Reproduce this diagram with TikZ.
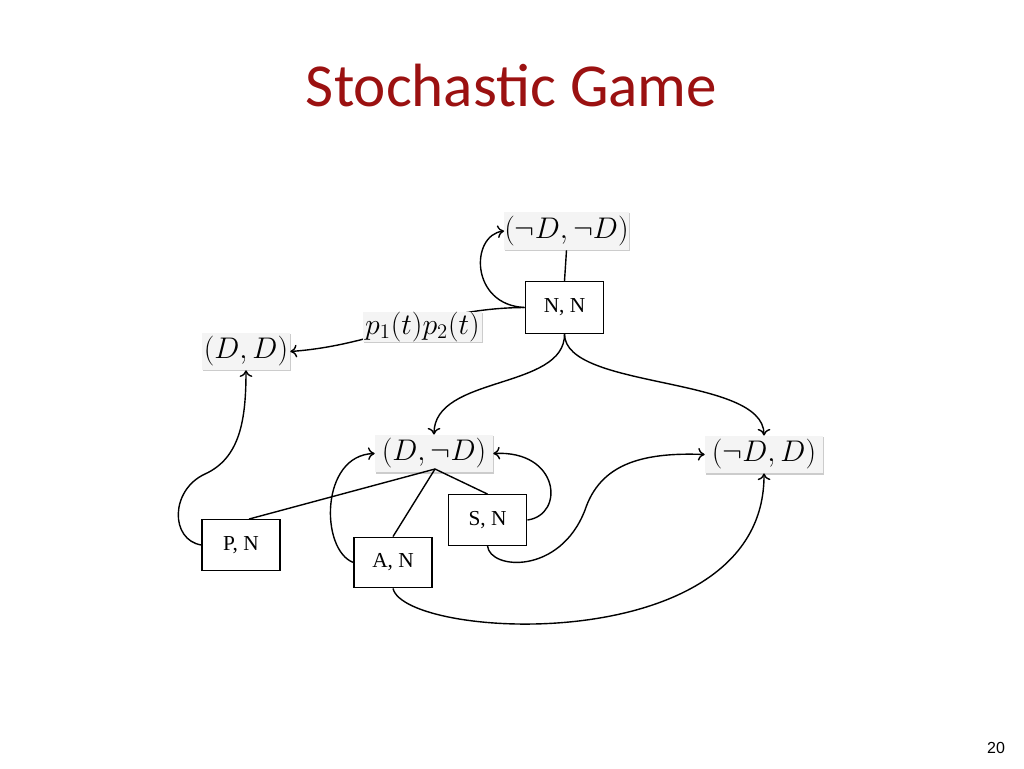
\documentclass[tikz,border=0pt]{standalone}
\usepackage{fontspec}
\newfontfamily\titlefont{Carlito}
\newfontfamily\boxfont{Liberation Serif}
\newfontfamily\numfont{Liberation Sans}
\usetikzlibrary{shadows,arrows.meta}
\definecolor{titlered}{RGB}{155,17,17}
\definecolor{statebg}{RGB}{244,244,244}
\newcommand{\stm}[1]{\scalebox{1.08}{$#1$}}
\begin{document}
\begin{tikzpicture}[x=0.75pt,y=-0.75pt,
  state/.style={fill=statebg, inner sep=0pt, font=\fontsize{20.74}{25}\selectfont,
    drop shadow={shadow xshift=0.7pt, shadow yshift=-1pt, fill=black, opacity=0.2}},
  act/.style={draw, fill=white, line width=0.9pt, inner sep=0pt, font=\boxfont\fontsize{16}{18}\selectfont,
    minimum width=58.5pt, minimum height=38pt},
  edge/.style={line width=1.05pt},
  arr/.style={edge, -{To[length=5pt,width=9.5pt]}}]
\fill[white] (0,0) rectangle (1024,768);
\useasboundingbox (0,0) rectangle (1024,768);

\node[font=\titlefont\fontsize{45.8}{50}\selectfont, text=titlered, anchor=base] (title) at (511.5,106) {Stochastic Game};
\node[font=\numfont\fontsize{12}{14}\selectfont, anchor=base] (pg) at (996,753) {20};

\node[state, minimum width=89pt, minimum height=28.5pt] (nn) at (566.5,231) {\stm{(\neg D,\neg D)}};
\node[state, minimum width=66pt, minimum height=27.75pt] (dd) at (246,351.5) {\stm{(D,D)}};
\node[state, minimum width=88.5pt, minimum height=28pt] (dn) at (434,453.5) {\stm{(D,\neg D)}};
\node[state, minimum width=88.5pt, minimum height=28pt] (nd) at (764,454.5) {\stm{(\neg D,D)}};

\coordinate (fk) at (435,469);
\node[act] (PN) at (241,545) {P, N};
\node[act] (AN) at (393,562.5) {A, N};
\node[act, minimum width=59pt] (SN) at (487.5,520) {S, N};
\node[act, minimum width=59pt, minimum height=39pt] (NN) at (564.5,307.5) {N, N};

\draw[edge] (fk) -- (PN.73);
\draw[edge] (fk) -- (AN.north);
\draw[edge] (fk) -- (SN.north);

\draw[edge] (NN.north) -- (nn.south);
\draw[arr] (NN.west) .. controls (470,305) and (470,235) .. (nn.west);
\draw[arr] (NN.west) .. controls (430,308) and (380,345) .. (dd.east);
\node[state, minimum width=89pt, minimum height=22.5pt] (pl) at (422.5,327) {\stm{p_1(t)p_2(t)}};

\draw[arr] (NN.south) .. controls (565,390) and (434,375) .. (dn.north);
\draw[arr] (NN.south) .. controls (565,390) and (764,375) .. (nd.north);

\draw[arr] (PN.west) .. controls (170,540) and (170,490) .. (205,474) .. controls (240,458) and (246,420) .. (dd.south);
\draw[arr] (AN.west) .. controls (320,550) and (320,455) .. (dn.west);
\draw[arr] (SN.east) .. controls (565,515) and (560,450) .. (dn.east);
\draw[arr] (SN.south) .. controls (490,570) and (560,575) .. (585,510) .. controls (600,465) and (640,452) .. (nd.west);
\draw[arr] (AN.south) .. controls (405,640) and (765,660) .. (nd.south);
\end{tikzpicture}
\end{document}
